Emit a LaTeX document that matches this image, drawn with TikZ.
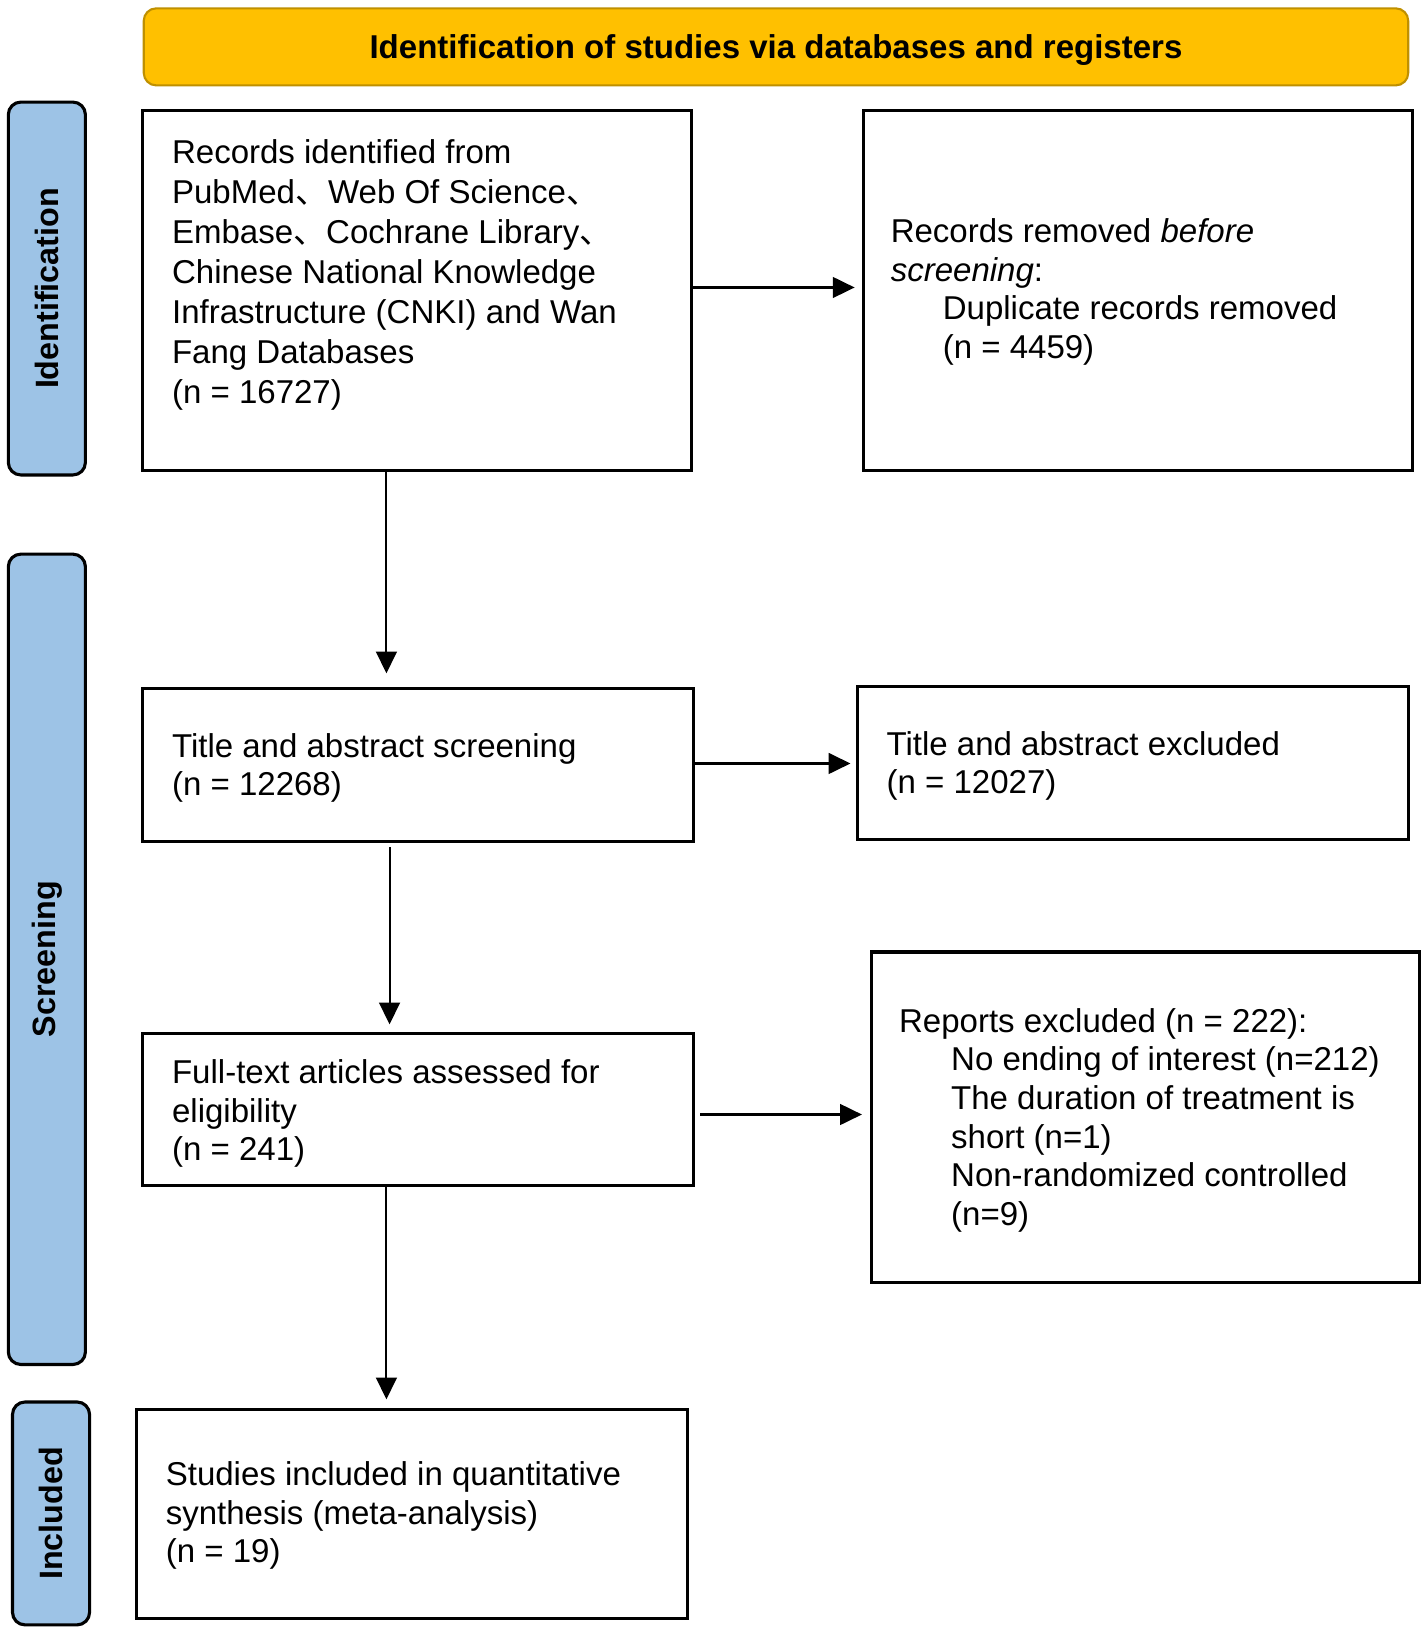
\documentclass[tikz,border=0pt]{standalone}
\usepackage{fontspec}
\setmainfont{Liberation Sans}
\newfontfamily\cjkf{Noto Sans CJK SC}
\usetikzlibrary{arrows.meta}
\definecolor{banfill}{HTML}{FFC000}
\definecolor{banborder}{HTML}{BF9000}
\definecolor{sideblue}{HTML}{9DC3E6}
\newcommand\fs{\fontsize{31.7}{37}\selectfont}
\newcommand\fsa{\fontsize{31.7}{38.3}\selectfont}
\newcommand\st{\rule{0pt}{26pt}}
\newcommand\dun{{\cjkf 、}}
\begin{document}
\begin{tikzpicture}[x=1pt,y=-1pt,
  box/.style={draw=black, line width=3pt, fill=white, inner sep=0pt},
  txt/.style={anchor=north west, align=left, inner sep=0pt, font=\fs},
  side/.style={draw=black, line width=3pt, fill=sideblue, rounded corners=12pt, rotate=90, inner sep=0pt, font=\fontsize{31}{37}\selectfont\bfseries},
  banner/.style={draw=banborder, line width=2pt, fill=banfill, rounded corners=12pt, inner sep=0pt, text height=22.5pt, text depth=0pt, font=\fontsize{31.7}{37}\selectfont\bfseries},
  arr/.style={line width=2pt, -{Triangle[length=21pt,width=20pt]}}
]
\useasboundingbox (0,0) rectangle (1366,1563);
% banner and side labels
\node[banner, minimum width=1214pt, minimum height=74pt] (ban) at (745,45) {Identification of studies via databases and registers};
\node[side, minimum width=358pt, minimum height=74pt] (s1) at (45,277) {Identification};
\node[side, minimum width=778pt, minimum height=74pt] (s2) at (45,921) {Screening};
\node[side, minimum width=214pt, minimum height=74pt] (s3) at (49,1453) {Included};
% boxes
\node[box, minimum width=527pt, minimum height=346pt] (b1) at (400.5,279) {};
\node[box, minimum width=527pt, minimum height=346pt] (b2) at (1092.5,279) {};
\node[box, minimum width=529pt, minimum height=147pt] (b3) at (401.5,734.5) {};
\node[box, minimum width=529pt, minimum height=147pt] (b4) at (1087.5,732.5) {};
\node[box, minimum width=529pt, minimum height=146pt] (b5) at (401.5,1065) {};
\node[box, minimum width=526pt, minimum height=317pt] (b6) at (1100,1072.5) {};
\node[box, minimum width=529pt, minimum height=201pt] (b7) at (395.5,1453.5) {};
% texts
\node[txt, font=\fsa] (t1) at (165,131) {\st Records identified from\\PubMed\dun Web Of Science\dun\\Embase\dun Cochrane Library\dun\\Chinese National Knowledge\\Infrastructure (CNKI) and Wan\\Fang Databases\\(n = 16727)};
\node[txt] (t2) at (855,207) {\st Records removed \textit{before}\\\textit{screening}:\\\hspace*{50pt}Duplicate records removed\\\hspace*{50pt}(n = 4459)};
\node[txt] (t3) at (165,701) {\st Title and abstract screening\\(n = 12268)};
\node[txt] (t4) at (851,699) {\st Title and abstract excluded\\(n = 12027)};
\node[txt] (t5) at (165,1014) {\st Full-text articles assessed for\\eligibility\\(n = 241)};
\node[txt] (t6) at (863,965) {\st Reports excluded (n = 222):\\\hspace*{50pt}No ending of interest (n=212)\\\hspace*{50pt}The duration of treatment is\\\hspace*{50pt}short (n=1)\\\hspace*{50pt}Non-randomized controlled\\\hspace*{50pt}(n=9)};
\node[txt] (t7) at (159,1400) {\st Studies included in quantitative\\synthesis (meta-analysis)\\(n = 19)};
% arrows
\draw[arr, shorten >=7pt] ([yshift=3pt]b1.east) -- ([yshift=3pt]b1.east -| b2.west);
\draw[arr, shorten >=13pt] ([xshift=-29.5pt]b1.south) -- ([xshift=-30.5pt]b3.north);
\draw[arr, shorten >=5pt] ([yshift=1.5pt]b3.east) -- ([yshift=1.5pt]b3.east -| b4.west);
\draw[arr, shorten <=4pt, shorten >=7pt] ([xshift=-27.5pt]b3.south) -- ([xshift=-27.5pt]b5.north);
\draw[arr, shorten <=5pt, shorten >=8pt] ([yshift=-5pt]b5.east) -- ([yshift=-5pt]b5.east -| b6.west);
\draw[arr, shorten >=8pt] ([xshift=-30.5pt]b5.south) -- ([xshift=-24.5pt]b7.north);
\end{tikzpicture}
\end{document}
